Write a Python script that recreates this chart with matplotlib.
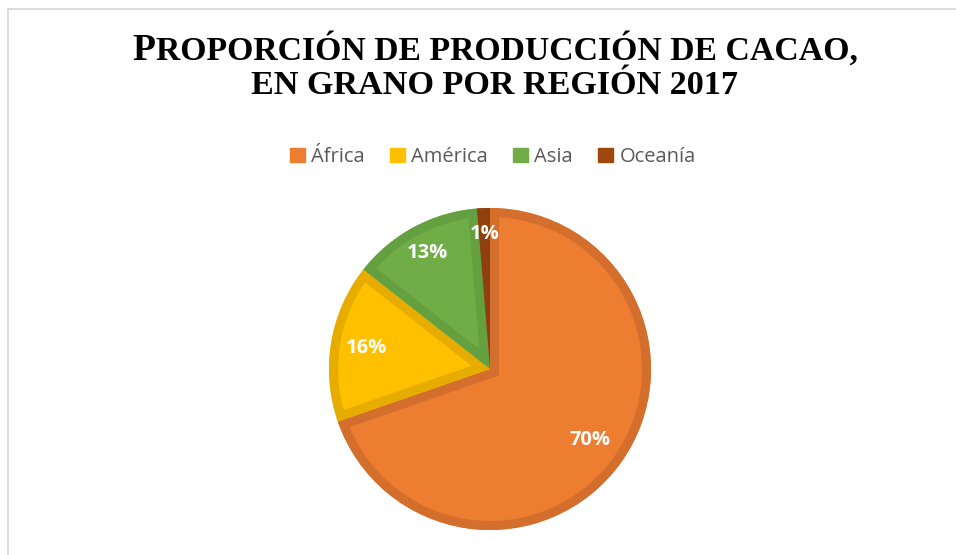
import matplotlib.pyplot as plt
from matplotlib.patches import Patch, Rectangle, Wedge
from matplotlib.offsetbox import TextArea, HPacker, AnchoredOffsetbox
import numpy as np

# Data
regions = ["África", "América", "Asia", "Oceanía"]
shares = [69.7, 15.9, 13.1, 1.3]
fill_colors = ["#ED7D31", "#FFC000", "#70AD47", "#9E480E"]
edge_colors = ["#D46E2C", "#E6AC00", "#65A040", "#8E410D"]
label_dist = [0.76, 0.78, 0.82, 0.84]

W, H = 956, 555
fig = plt.figure(figsize=(W / 100, H / 100), dpi=100)
fig.patch.set_facecolor("white")

# light chart-area frame
fig.patches.append(Rectangle((8 / W, -0.05), 1.1, 1 - 9 / H + 0.05, transform=fig.transFigure,
                             fill=False, edgecolor="#D9D9D9", linewidth=1.3))

# Title (first letter a bit larger, small-caps look)
serif = "Liberation Serif"
p1 = TextArea("P", textprops=dict(fontsize=27, fontweight="bold", family=serif, color="black"))
p2 = TextArea("ROPORCIÓN DE PRODUCCIÓN DE CACAO,",
              textprops=dict(fontsize=24.3, fontweight="bold", family=serif, color="black"))
line1 = HPacker(children=[p1, p2], align="baseline", pad=0, sep=0)
ab = AnchoredOffsetbox(loc="center", child=line1, pad=0, frameon=False,
                       bbox_to_anchor=(495 / W, 1 - 50 / H), bbox_transform=fig.transFigure)
fig.add_artist(ab)
fig.text(494 / W, 1 - 86 / H, "EN GRANO POR REGIÓN 2017", ha="center", va="center",
         fontsize=24.6, fontweight="bold", family=serif, color="black")

# Legend
handles = [Patch(facecolor=c, edgecolor=c) for c in fill_colors]
fig.legend(handles, regions, loc="center", bbox_to_anchor=(493 / W, 1 - 157 / H), ncol=4,
           frameon=False, handlelength=0.75, handleheight=0.75, handletextpad=0.3,
           columnspacing=1.25, prop=dict(family="Open Sans", size=14.5), labelcolor="#595959")

# Pie
R = 161
box = 170
ax = fig.add_axes([(490 - box) / W, (H - 369 - box) / H, 2 * box / W, 2 * box / H])
wedges, _ = ax.pie(shares, colors=fill_colors, startangle=90, counterclock=False, radius=1,
                   wedgeprops=dict(linewidth=0))
for w, ec in zip(wedges, edge_colors):
    border = Wedge(w.center, w.r, w.theta1, w.theta2, facecolor="none",
                   edgecolor=ec, linewidth=13, joinstyle="miter")
    ax.add_patch(border)
    border.set_clip_path(w)

for w, v, d in zip(wedges, shares, label_dist):
    mid = np.deg2rad((w.theta1 + w.theta2) / 2)
    ax.text(d * np.cos(mid), d * np.sin(mid), f"{v:.0f}%", ha="center", va="center",
            fontsize=14.5, fontweight="bold", family="Open Sans", color="white")

ax.set_xlim(-box / R, box / R)
ax.set_ylim(-box / R, box / R)
ax.set_aspect("equal")
ax.axis("off")

fig.savefig("out.png", dpi=100)
